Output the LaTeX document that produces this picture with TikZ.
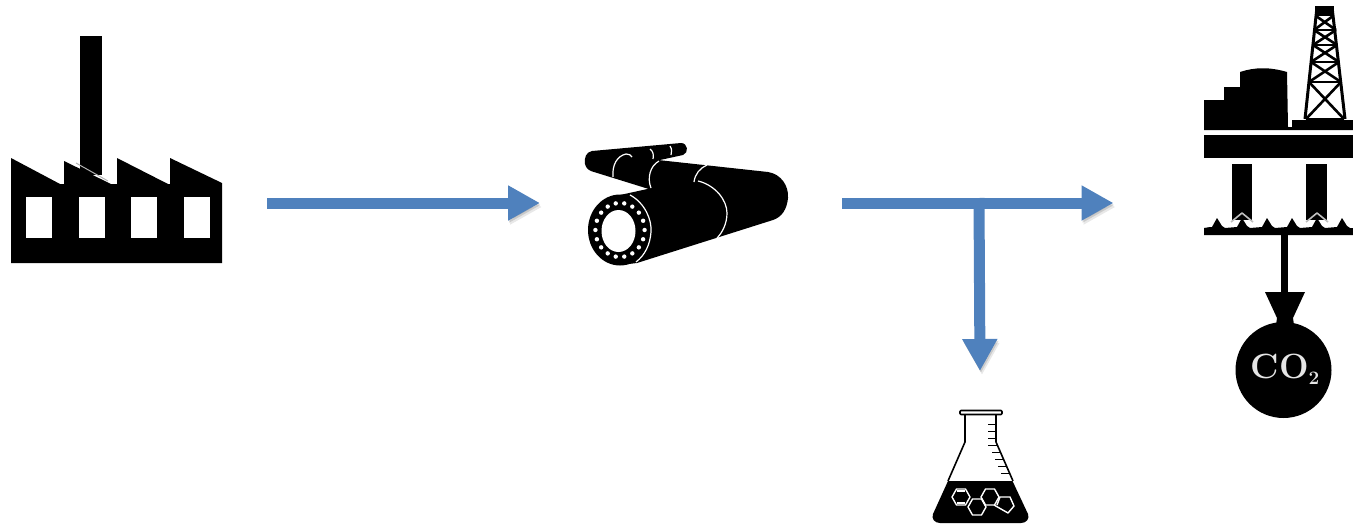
\documentclass[tikz,border=0pt]{standalone}
\usetikzlibrary{arrows.meta}
\definecolor{flowblue}{HTML}{4F81BD}
\tikzset{
	hub/.style={minimum height=20pt, inner sep=0pt, outer sep=0pt},
	flow/.style={->, draw=flowblue, line width=11pt,
		preaction={draw=black, opacity=0.13, transform canvas={shift={(1pt,-2pt)}}},
		preaction={draw=black, opacity=0.09, transform canvas={shift={(2pt,-4pt)}}}},
	seam/.style={draw=white, line width=1.2pt},
	molline/.style={draw=white, line width=1.4pt, line join=round},
	rig/.style={draw=black, line width=3pt}
}
\begin{document}
\begin{tikzpicture}[x=1pt, y=-1pt, >={Triangle[length=32pt,width=33pt]}, line cap=butt, line join=round]
	\useasboundingbox (0,0) rectangle (1353,525);

	% === FACTORY ===
	\begin{scope}
		\fill (80,36) rectangle (102,175);
		\fill (11,263) -- (11,158) -- (60,184) -- (64,184) -- (64,161) -- (111,184) -- (117,184)
			-- (117,158) -- (168,184) -- (170,184) -- (170,158) -- (222,183) -- (222,263) -- cycle;
		\foreach \x in {26,79,131,184} {
			\fill[white] (\x,197) rectangle ++(26,41);
		}
		\draw[white!70!black, line width=1pt] (76,163) -- (108,181);
	\end{scope}

	% === PIPELINE ===
	\begin{scope}
		\fill (592,151) .. controls (586,152) and (584,158) .. (585,164)
			.. controls (586,169) and (590,171) .. (594,172) -- (652,190) -- (660,160) -- (683,155)
			.. controls (689,153) and (688,143) .. (681,143) -- cycle;
		\fill (620,195) -- (652,188) -- (658,160) -- (768,172)
			.. controls (781,174) and (789,186) .. (788,198)
			.. controls (787,209) and (782,217) .. (773,220) -- (637,263) -- (620,265) -- cycle;
		\fill (620,230) ellipse (32 and 35.5);
		\fill[white] (618.5,231) ellipse (17 and 21);
		\foreach \a in {0,20,...,340} {
			\fill[white] (620,230) ++(\a:24.6 and 27) circle (2.2);
		}
		\draw[seam] (630,195) .. controls (645,203) and (652,220) .. (651,232)
			.. controls (650,245) and (645,255) .. (636,262);
		\draw[seam] (698,181) .. controls (715,185) and (727,200) .. (727,213)
			.. controls (727,224) and (722,233) .. (717,238);
		\draw[seam] (694,182) .. controls (695,174) and (700,168) .. (707,165);
		\draw[seam] (651,188) .. controls (647,178) and (650,166) .. (659,161);
		\draw[seam] (613,177) .. controls (612,165) and (617,156) .. (626,154) .. controls (629,154) and (631,155) .. (632,157);
		\draw[seam] (650,149) .. controls (653,151) and (654,155) .. (653,159);
		\draw[seam] (670,146) .. controls (672,149) and (672,152) .. (671,155);
	\end{scope}

	% === PLATFORM ===
	\begin{scope}
		\fill (1204,130) -- (1204,100) -- (1224,100) -- (1224,87) -- (1240,87) -- (1240,72)
			.. controls (1255,67) and (1270,67) .. (1287,72) -- (1288,127) -- (1292,127)
			-- (1292,120) -- (1353,120) -- (1353,130) -- cycle;
		\fill (1204,135) rectangle (1353,158);
		\fill (1232,164) rectangle (1252,220);
		\fill (1306,164) rectangle (1327,220);
		% derrick
		\draw[rig] (1317,7) -- (1305,119);
		\draw[rig] (1332,7) -- (1345,119);
		\fill (1315,6) rectangle (1334,16);
		\foreach \xa/\xb/\ya/\xc/\xd/\yb in {1316/1333/16/1314/1336/30, 1314/1336/30/1313/1337/45,
			1313/1337/45/1311/1339/62, 1311/1339/62/1309/1341/82, 1309/1341/82/1306/1344/119} {
			\draw[rig, line width=2.6pt] (\xa,\ya) -- (\xd,\yb);
			\draw[rig, line width=2.6pt] (\xb,\ya) -- (\xc,\yb);
			\draw[rig, line width=2.6pt] (\xc,\yb) -- (\xd,\yb);
		}
		% water
		\fill (1204,235) -- (1204,228) -- (1210,227)
			\foreach \x in {1217,1242,1267,1292,1317,1342} {
				-- (\x-5,227) -- (\x,218) -- (\x+5,226) -- (\x+8,228)
			} -- (1353,228) -- (1353,235) -- cycle;
		\foreach \x in {1242,1317} {
			\draw[white!75!black, line width=1.6pt] (\x-11,222) -- (\x,213) -- (\x+11,222);
		}
		% injection well
		\fill (1280.5,235) rectangle (1287.5,294);
		\fill (1265,292) -- (1305,292) -- (1293,318) -- (1294,325) -- (1276,325) -- (1277,318) -- cycle;
		\fill (1283.5,370) circle (48);
		\node[text=white!90!black, font=\fontsize{35}{40}\bfseries\selectfont, inner sep=0pt] (co2) at (1285,369) {CO\raisebox{-6pt}{\fontsize{19}{19}\selectfont 2}};
	\end{scope}

	% === FLASK ===
	\begin{scope}
		\draw[line width=1.6pt, rounded corners=1pt] (960,410.5) rectangle (1002,414.5);
		\draw[line width=1.6pt] (965,414.5) -- (965,442) -- (948,481);
		\draw[line width=1.6pt] (996,414.5) -- (996,442) -- (1013,481);
		\fill (948,481) -- (1012.5,481) -- (1028,514) .. controls (1030,519) and (1026,523) .. (1021,523)
			-- (940,523) .. controls (935,523) and (931,519) .. (933,514) -- cycle;
		\foreach \y/\xa/\xb in {424/996/988, 431/996/988, 438/996/988, 445/997/988, 452/1000/992,
			459/1003/995, 466/1006/998, 473/1009/1001} {
			\draw[line width=1pt] (\xa,\y) -- (\xb,\y);
		}
		\foreach \cx/\cy in {961/497, 977/507, 990/497} {
			\draw[molline] (\cx+9,\cy) -- (\cx+4.5,\cy-8) -- (\cx-4.5,\cy-8) -- (\cx-9,\cy)
				-- (\cx-4.5,\cy+8) -- (\cx+4.5,\cy+8) -- cycle;
		}
		\draw[molline] (957,491) -- (965,491);
		\draw[molline] (957,503) -- (965,503);
		\draw[molline] (997,505) -- (1000,497) -- (1010,497) -- (1014,506) -- (1008,513) -- (994,505);
	\end{scope}

	% === FLOWS ===
	\node[hub, minimum width=256pt] (factory) at (139,203) {};
	\node[hub, minimum width=302pt] (pipeline) at (691,203) {};
	\node[hub, minimum width=240pt] (platform) at (1233.5,203) {};
	\node[hub, minimum width=80pt, anchor=north] (flask) at (980,371) {};
	\coordinate (branch) at (979,198);

	\draw[flow] (factory.east) -- (pipeline.west);
	\draw[flow] (pipeline.east) -- (platform.west);
	\draw[flow] (branch) -- (flask.north);
\end{tikzpicture}
\end{document}
